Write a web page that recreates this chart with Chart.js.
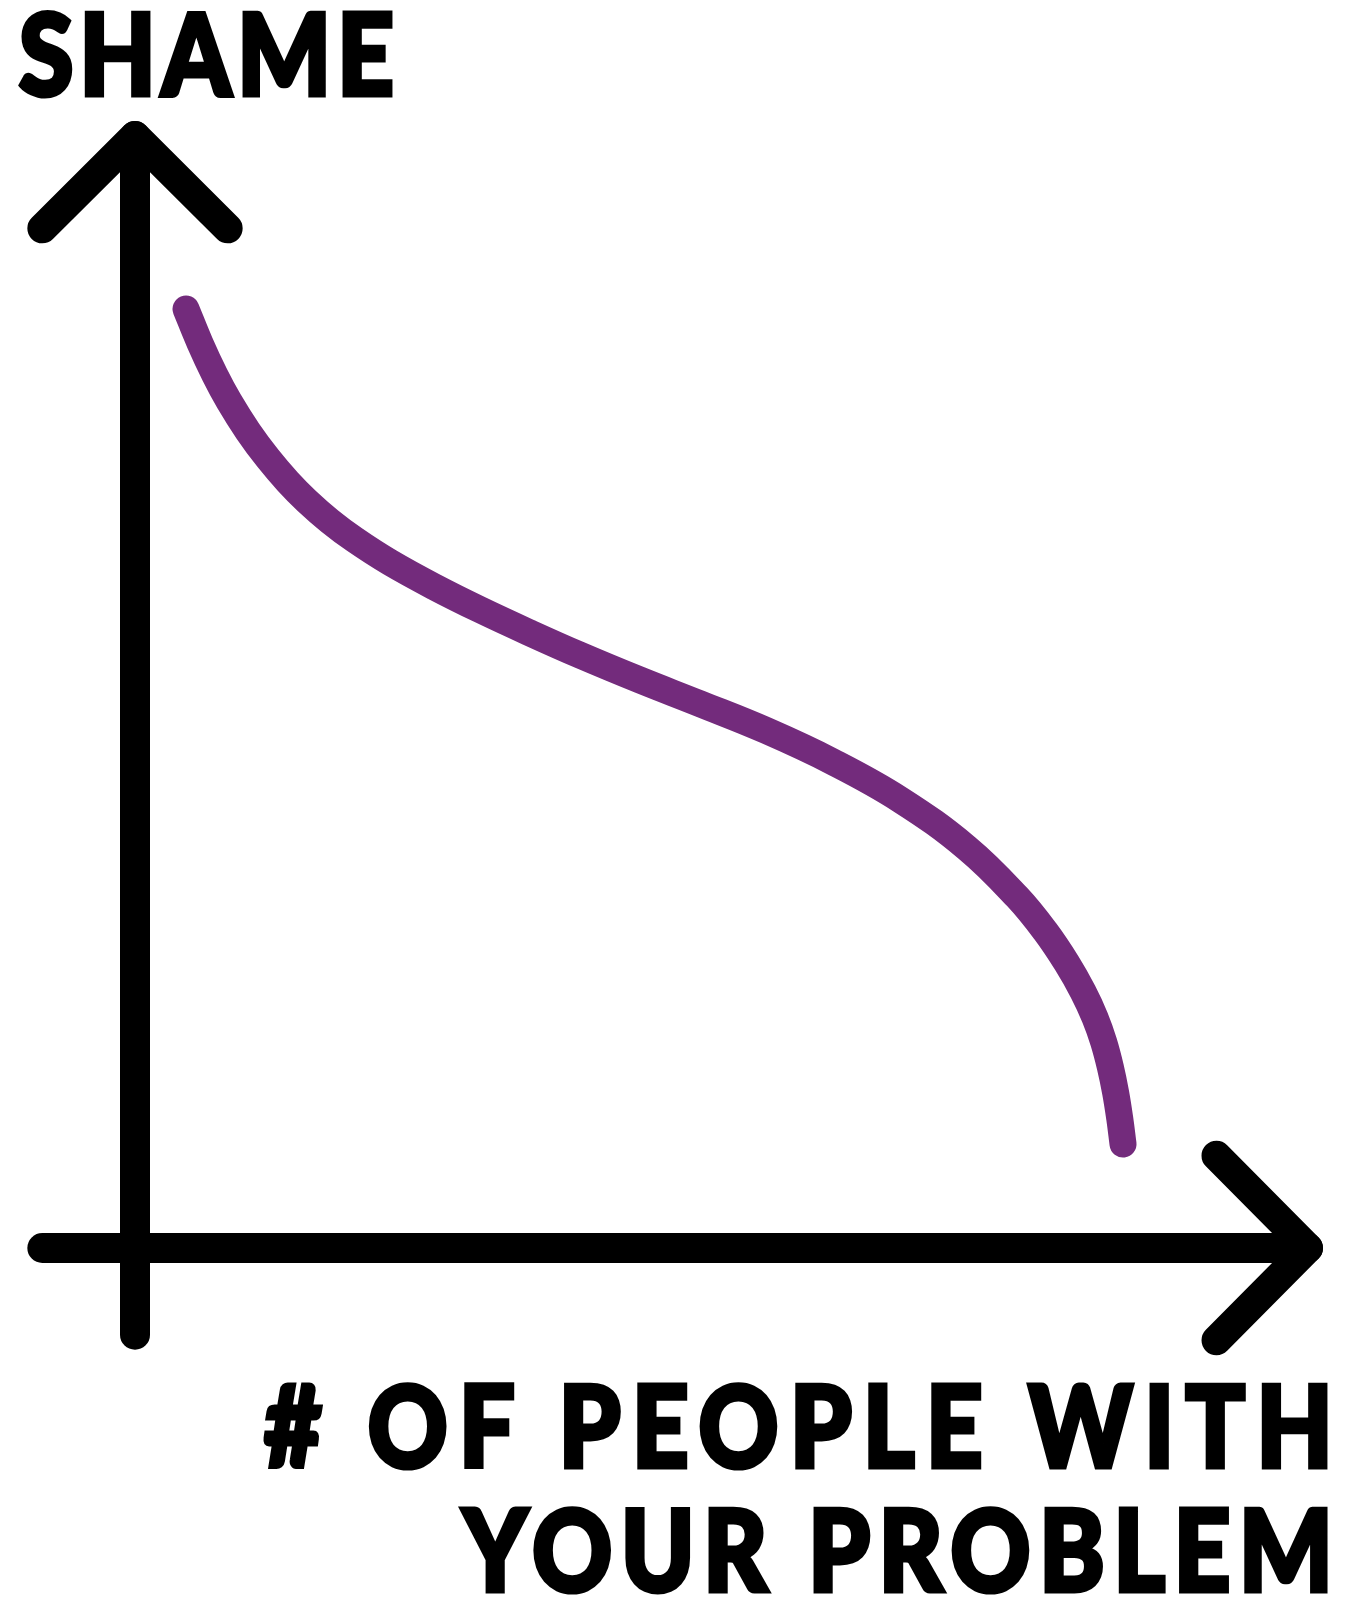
<!DOCTYPE html>
<html>
<head>
    <title>Shame</title>
    <script src="https://cdn.jsdelivr.net/npm/chart.js"></script>
    <style>
        body { margin: 0; background: #fff; }
        .wrap { position: relative; width: 1358px; height: 1613px; overflow: hidden; }
        .wrap canvas { position: absolute; left: 0; top: 0; }
        .lbl {
            position: absolute;
            font-family: "Lato", "Open Sans", sans-serif;
            font-weight: 900;
            font-size: 112px;
            line-height: 1;
            color: #000;
            -webkit-text-stroke: 5px #000;
            white-space: nowrap;
        }
        #yTitle { left: 19px; top: -4px; letter-spacing: 7px; transform: scaleX(0.88); transform-origin: left center; }
        #xTitle1 { right: 14px; top: 1368px; letter-spacing: 13px; transform: scaleX(0.88); transform-origin: right center; }
        #xTitle2 { right: 16px; top: 1492px; letter-spacing: 10px; transform: scaleX(0.88); transform-origin: right center; }
    </style>
</head>
<body>
    <div class="wrap">
        <canvas id="chart" width="1358" height="1613"></canvas>
        <div class="lbl" id="yTitle"></div>
        <div class="lbl" id="xTitle1"></div>
        <div class="lbl" id="xTitle2"></div>
    </div>

    <script>
        // axis titles
        var yTitle = 'SHAME';
        var xTitle = ['# OF PEOPLE WITH', 'YOUR PROBLEM'];

        // the curve (origin = where the axes cross, arrow tips = 100)
        var peopleX = [4.35, 5.54, 6.82, 8.01, 9.63, 11.34, 13.04, 14.66, 16.62, 18.76,
                       21.74, 25.58, 29.41, 33.67, 37.94, 43.05, 48.17, 53.79, 59.51, 65.22,
                       70.93, 75.19, 77.58, 79.45, 80.82, 81.84, 82.58, 83.15, 83.60, 83.95, 84.23];
        var shameY  = [84.44, 81.38, 78.48, 76.15, 73.44, 71.00, 68.90, 67.17, 65.36, 63.67,
                       61.65, 59.42, 57.40, 55.31, 53.31, 51.07, 48.94, 46.54, 43.71, 40.33,
                       35.97, 31.58, 28.51, 25.59, 23.04, 20.72, 18.52, 16.26, 13.97, 11.65, 9.35];

        // hand drawn axes with arrow heads
        var yAxisX = [0, 0];
        var yAxisY = [-7.8, 100];
        var yArrowX = [-7.9, 0, 7.9];
        var yArrowY = [91.7, 100, 91.7];
        var xAxisX = [-7.9, 100];
        var xAxisY = [0, 0];
        var xArrowX = [92.2, 100, 92.2];
        var xArrowY = [8.3, 0, -8.3];

        function pts(xs, ys) {
            return xs.map(function(x, i) { return { x: x, y: ys[i] }; });
        }

        function stroke(data, color, width, tension) {
            return {
                data: data,
                borderColor: color,
                borderWidth: width,
                borderCapStyle: 'round',
                borderJoinStyle: 'round',
                pointRadius: 0,
                fill: false,
                tension: tension || 0,
                clip: false
            };
        }

        document.getElementById('yTitle').textContent = yTitle;
        document.getElementById('xTitle1').textContent = xTitle[0];
        document.getElementById('xTitle2').textContent = xTitle[1];

        var ctx = document.getElementById('chart').getContext('2d');
        new Chart(ctx, {
            type: 'line',
            data: {
                datasets: [
                    stroke(pts(yAxisX, yAxisY), '#000', 30),
                    stroke(pts(yArrowX, yArrowY), '#000', 30),
                    stroke(pts(xAxisX, xAxisY), '#000', 30),
                    stroke(pts(xArrowX, xArrowY), '#000', 30),
                    stroke(pts(peopleX, shameY), '#732b7c', 27, 0.4)
                ]
            },
            options: {
                responsive: false,
                animation: false,
                events: [],
                layout: { padding: { left: 135, right: 50, top: 136, bottom: 365 } },
                plugins: {
                    legend: { display: false },
                    tooltip: { enabled: false }
                },
                scales: {
                    x: { type: 'linear', min: 0, max: 100, display: false },
                    y: { type: 'linear', min: 0, max: 100, display: false }
                }
            }
        });
    </script>
</body>
</html>
